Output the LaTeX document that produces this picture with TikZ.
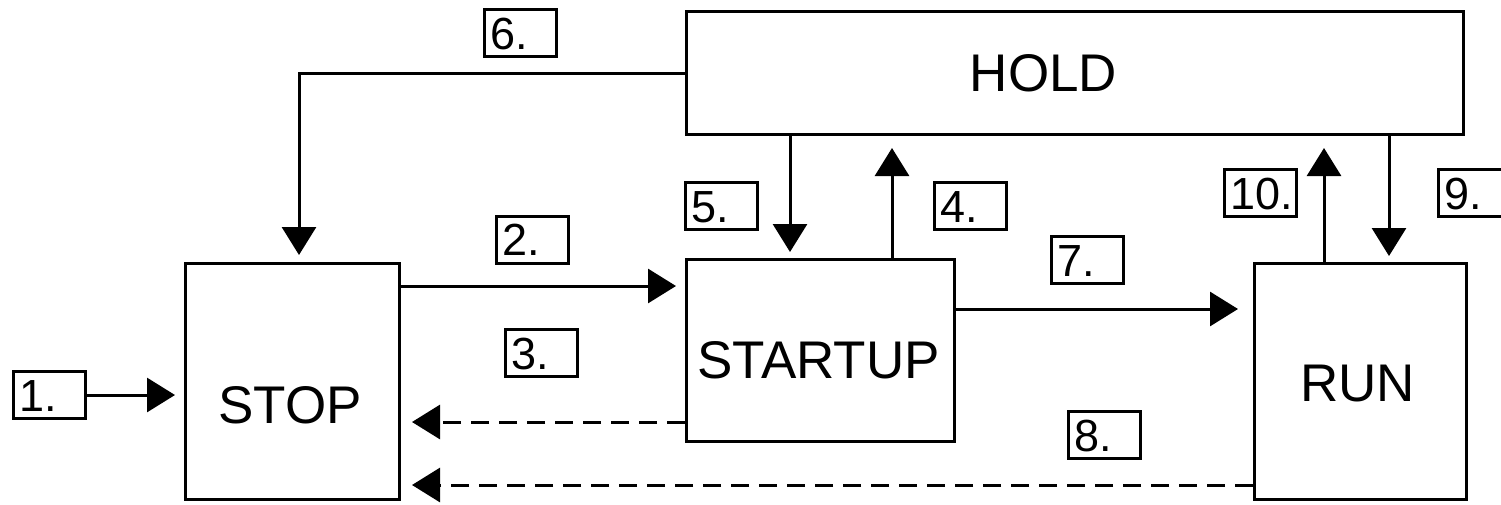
\documentclass[tikz,border=0pt]{standalone}
\usepackage{fontspec}
\setmainfont{Liberation Sans}
\usetikzlibrary{arrows.meta}
\tikzset{
  statebox/.style={draw=black, line width=3pt, rectangle, inner sep=0pt},
  statetext/.style={font=\fontsize{53}{60}\selectfont, inner sep=0pt},
  numtag/.style={draw=black, line width=3pt, fill=white, minimum width=72pt, minimum height=47pt,
    text width=60pt, inner xsep=6pt, inner ysep=0pt, align=left, text height=32pt, text depth=0pt,
    font=\fontsize{45}{50}\selectfont},
  arr/.style={-{Triangle[length=28pt,width=34pt]}, line width=3pt, shorten >=9pt},
  darr/.style={arr, dash pattern=on 18pt off 10pt}
}

\begin{document}
\begin{tikzpicture}[x=1pt, y=-1pt]
  \useasboundingbox (0,0) rectangle (1501,504);

  \node[statebox, minimum width=214pt, minimum height=236pt,
    label={[statetext, xshift=-2.5pt, yshift=-23.5pt]center:STOP}] (stop) at (292.5,381.5) {};
  \node[statebox, minimum width=268pt, minimum height=182pt,
    label={[statetext, xshift=-2pt, yshift=-9.5pt]center:STARTUP}] (startup) at (820.5,350.5) {};
  \node[statebox, minimum width=212pt, minimum height=236pt,
    label={[statetext, xshift=-3pt, yshift=-2.5pt]center:RUN}] (run) at (1360.5,381.5) {};
  \node[statebox, minimum width=777pt, minimum height=123pt,
    label={[statetext, xshift=-31.5pt]center:HOLD}] (hold) at (1075,73) {};

  \node[numtag] (t1) at (49,395) {1.};
  \node[numtag] (t2) at (532.5,239.5) {2.};
  \node[numtag] (t3) at (541,353) {3.};
  \node[numtag] (t4) at (970,206) {4.};
  \node[numtag] (t5) at (721.5,206) {5.};
  \node[numtag] (t6) at (520,33) {6.};
  \node[numtag] (t7) at (1087.5,260) {7.};
  \node[numtag] (t8) at (1104.5,435) {8.};
  \node[numtag] (t9) at (1474.5,193) {9.};
  \node[numtag] (t10) at (1260,193) {10.};

  \draw[arr] (t1.east) -- ([yshift=-13.5pt]stop.west);
  \draw[arr] ([yshift=-24pt]stop.north east) -- ([yshift=-28pt]startup.north west);
  \draw[darr, shorten >=11pt] ([yshift=21pt]startup.south west) -- ([yshift=-40.5pt]stop.east);
  \draw[arr, shorten >=12pt] ([xshift=71.5pt]startup.north) -- ([xshift=-183pt]hold.south);
  \draw[arr, shorten >=6pt] ([xshift=-285pt]hold.south) -- ([xshift=-30.5pt]startup.north);
  \draw[arr, shorten >=7pt] (hold.west) -| ([xshift=6.5pt]stop.north);
  \draw[arr, shorten >=15pt] ([yshift=-51pt]startup.north east) -- ([yshift=-47pt]run.north west);
  \draw[darr, shorten >=11pt] ([yshift=16pt]run.south west) -- ([yshift=16pt]stop.south east);
  \draw[arr, shorten >=6pt] ([xshift=314pt]hold.south) -- ([xshift=28.5pt]run.north);
  \draw[arr, shorten >=12pt] ([xshift=-36.5pt]run.north) -- ([xshift=249pt]hold.south);
\end{tikzpicture}
\end{document}
